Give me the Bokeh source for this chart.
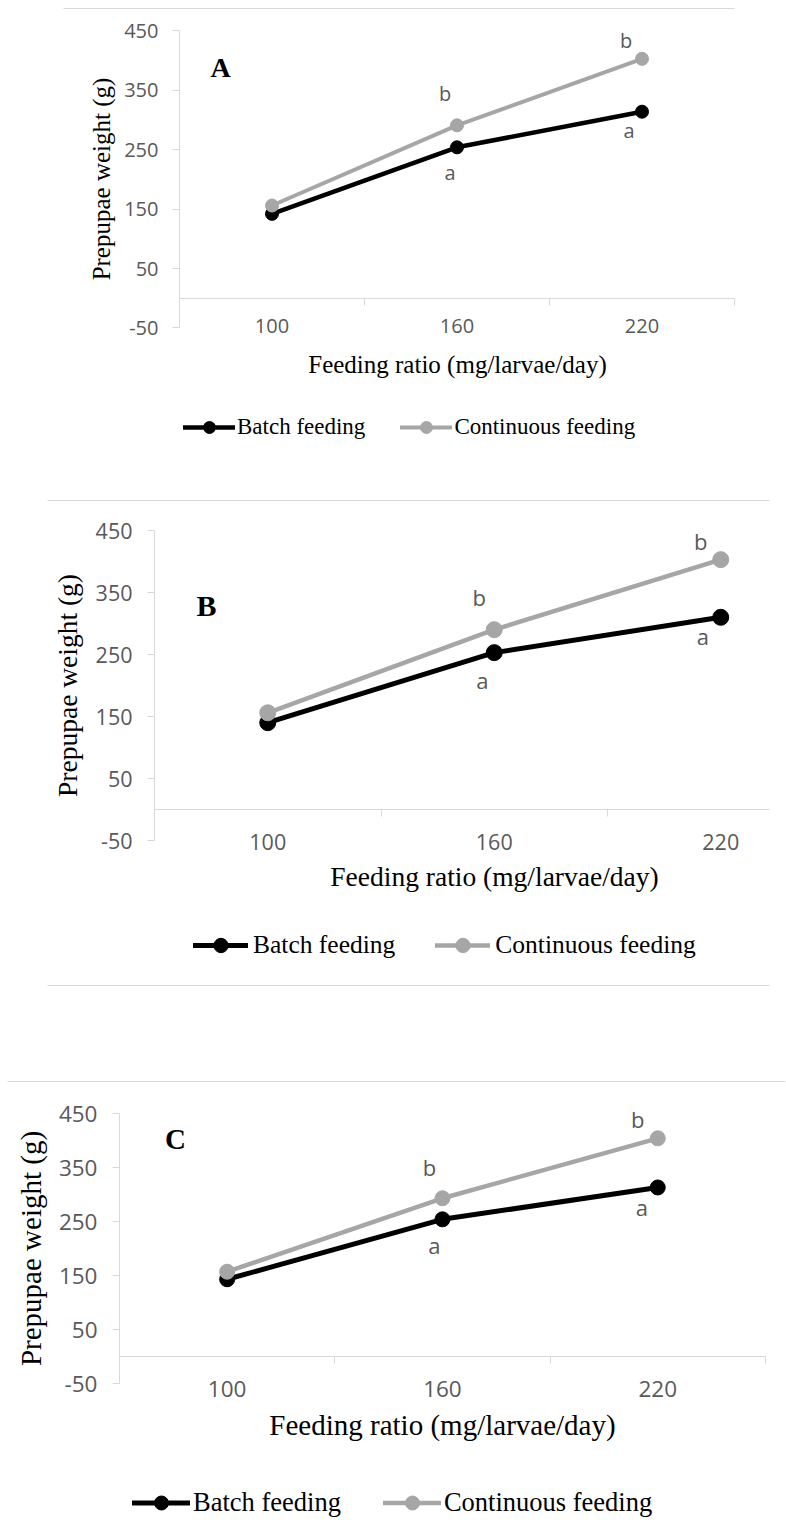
from bokeh.plotting import figure
from bokeh.models import (Range1d, LinearAxis, FixedTicker, Legend, LegendItem,
                          Label, ColumnDataSource)
from bokeh.layouts import column
from bokeh.embed import file_html
from bokeh.resources import INLINE
from bokeh.core.properties import value

# ---------------- data ----------------
categories = ["100", "160", "220"]
cat_pos = [0.5, 1.5, 2.5]
cat_bounds = [0, 1, 2, 3]
y_ticks = [-50, 50, 150, 250, 350, 450]
series_names = ["Batch feeding", "Continuous feeding"]
x_title = "Feeding ratio (mg/larvae/day)"
y_title = "Prepupae weight (g)"

batch_A = [142, 254, 314]
cont_A = [156, 291, 403]
batch_B = [140, 253, 310]
cont_B = [156, 290, 403]
batch_C = [143, 254, 313]
cont_C = [157, 293, 404]

letters_batch = ["", "a", "a"]
letters_cont = ["", "b", "b"]
panel_letters = ["A", "B", "C"]

# ---------------- styles / geometry (page pixels) ----------------
GRID = "#D9D9D9"
GRAY = "#A6A6A6"
TICK_TXT = "#595959"

cfgA = dict(top=0, W=786, H=480, x0=179, cw=185, y0=297.7, ppu=0.594, xend=3.0,
            tick_fs=20, ytick_so=14, title_fs=25, ylab_so=6, xtick_so=-9, xlab_so=15,
            lw_b=4.5, lw_c=4, ms=13, txt_fs=20,
            letter=(220, 67), letter_fs=28,
            leg_x=183, leg_cy=427, gh=30, gw=52, lso=2, lsp=35, leg_fs=23,
            borders=[(63, 734, 8)],
            dx=[-7, -13, -12, -16], dy=[25, 19, -32, -18])
cfgB = dict(top=480, W=786, H=530, x0=154, cw=226.5, y0=809, ppu=0.62, xend=2.715,
            tick_fs=21.5, ytick_so=15, title_fs=27.5, ylab_so=10, xtick_so=-7, xlab_so=8,
            lw_b=5, lw_c=4.5, ms=16, txt_fs=22,
            letter=(206, 605), letter_fs=30,
            leg_x=193, leg_cy=945, gh=36, gw=55, lso=5, lsp=40, leg_fs=25.5,
            borders=[(47, 769, 500), (47, 769, 985)],
            dx=[-12, -18, -15, -20], dy=[27, 19, -33, -19])
cfgC = dict(top=1010, W=786, H=520, x0=119, cw=215.3, y0=1356, ppu=0.54, xend=3.0,
            tick_fs=22.5, ytick_so=15, title_fs=29, ylab_so=9, xtick_so=-3, xlab_so=9,
            lw_b=5, lw_c=4.5, ms=15, txt_fs=22,
            letter=(175, 1138), letter_fs=29,
            leg_x=132, leg_cy=1502, gh=35, gw=58, lso=3, lsp=42, leg_fs=26.5,
            borders=[(7, 785, 1081)],
            dx=[-8, -16, -13, -20], dy=[26, 20, -31, -19])


def make_panel(cfg, batch, cont, letter):
    W, H, top = cfg["W"], cfg["H"], cfg["top"]
    x0, cw, y0, ppu = cfg["x0"], cfg["cw"], cfg["y0"], cfg["ppu"]

    def cx(px):
        return (px - x0) / cw

    def vy(py):
        return (y0 - py) / ppu

    p = figure(width=W, height=H,
               x_range=Range1d(cx(0), cx(W)), y_range=Range1d(vy(top + H), vy(top)),
               x_axis_type=None, y_axis_type=None,
               output_backend="svg", toolbar_location=None,
               min_border_left=0, min_border_right=0,
               min_border_top=0, min_border_bottom=0)
    p.title.visible = False
    p.outline_line_color = None
    p.background_fill_color = "white"
    p.border_fill_color = "white"

    # vertical axis crossing at the first category boundary
    yax = LinearAxis(fixed_location=0, bounds=(y_ticks[0], y_ticks[-1]),
                     ticker=FixedTicker(ticks=y_ticks, minor_ticks=[]),
                     major_label_overrides={t: str(t) for t in y_ticks},
                     axis_label=y_title,
                     axis_label_text_font="Liberation Serif",
                     axis_label_text_font_size=f"{cfg['title_fs']}px",
                     axis_label_text_font_style="normal",
                     axis_label_text_color="black",
                     axis_label_standoff=cfg["ylab_so"],
                     major_label_text_font="Open Sans",
                     major_label_text_font_size=f"{cfg['tick_fs']}px",
                     major_label_text_color=TICK_TXT,
                     major_label_standoff=cfg["ytick_so"],
                     axis_line_color=GRID, major_tick_line_color=GRID,
                     major_tick_out=7, major_tick_in=0,
                     minor_tick_line_color=None)
    p.add_layout(yax, "left")

    # category labels + title at the bottom of the plot area (y = -50)
    xlab = LinearAxis(fixed_location=y_ticks[0], bounds=(0.3, 2.7),
                      ticker=FixedTicker(ticks=cat_pos, minor_ticks=[]),
                      major_label_overrides={cp: c for cp, c in zip(cat_pos, categories)},
                      axis_label=x_title,
                      axis_label_text_font="Liberation Serif",
                      axis_label_text_font_size=f"{cfg['title_fs']}px",
                      axis_label_text_font_style="normal",
                      axis_label_text_color="black",
                      axis_label_standoff=cfg["xlab_so"],
                      major_label_text_font="Open Sans",
                      major_label_text_font_size=f"{cfg['tick_fs']}px",
                      major_label_text_color=TICK_TXT,
                      major_label_standoff=cfg["xtick_so"],
                      axis_line_color=None,
                      major_tick_line_color=None, major_tick_out=0, major_tick_in=0,
                      minor_tick_line_color=None)
    p.add_layout(xlab, "below")

    # horizontal axis line at y = 0 with ticks between categories
    x0ax = LinearAxis(fixed_location=0, bounds=(0, cfg["xend"]),
                      ticker=FixedTicker(ticks=[], minor_ticks=cat_bounds),
                      major_label_text_font_size="0px", major_label_standoff=0,
                      axis_line_color=GRID,
                      major_tick_line_color=None, major_tick_out=0, major_tick_in=0,
                      minor_tick_line_color=GRID, minor_tick_out=7, minor_tick_in=0)
    p.add_layout(x0ax, "below")

    # thin chart-area border lines
    for (xl, xr, py) in cfg["borders"]:
        bax = LinearAxis(fixed_location=vy(py), bounds=(cx(xl), cx(xr)),
                         ticker=FixedTicker(ticks=[], minor_ticks=[]),
                         major_label_text_font_size="0px", major_label_standoff=0,
                         axis_line_color=GRID, axis_line_width=1.2,
                         major_tick_line_color=None, minor_tick_line_color=None,
                         major_tick_out=0, major_tick_in=0)
        p.add_layout(bax, "above")

    src_b = ColumnDataSource(dict(x=cat_pos, y=batch))
    src_c = ColumnDataSource(dict(x=cat_pos, y=cont))
    lb = p.line("x", "y", source=src_b, line_color="black", line_width=cfg["lw_b"],
                line_join="round", line_cap="round")
    sb = p.scatter("x", "y", source=src_b, size=cfg["ms"], fill_color="black",
                   line_color="black")
    lc = p.line("x", "y", source=src_c, line_color=GRAY, line_width=cfg["lw_c"],
                line_join="round", line_cap="round")
    sc = p.scatter("x", "y", source=src_c, size=cfg["ms"], fill_color=GRAY,
                   line_color=GRAY)

    lab_src = ColumnDataSource(dict(
        x=cat_pos[1:] + cat_pos[1:],
        y=batch[1:] + cont[1:],
        text=letters_batch[1:] + letters_cont[1:],
        dx=cfg["dx"], dy=cfg["dy"]))
    p.text("x", "y", text="text", x_offset="dx", y_offset="dy", source=lab_src,
           text_font=value("Open Sans"), text_font_size=f"{cfg['txt_fs']}px",
           text_color=TICK_TXT, text_align="center", text_baseline="middle")

    p.add_layout(Label(x=cfg["letter"][0], y=cfg["letter"][1] - top, x_units="canvas",
                       y_units="canvas", text=letter, text_font="Liberation Serif",
                       text_font_style="bold", text_font_size=f"{cfg['letter_fs']}px",
                       text_color="black", text_align="center", text_baseline="middle"))

    leg_bottom = cfg["leg_cy"] - top + cfg["gh"] / 2
    leg = Legend(items=[LegendItem(label=series_names[0], renderers=[lb, sb]),
                        LegendItem(label=series_names[1], renderers=[lc, sc])],
                 location=(cfg["leg_x"], H - leg_bottom), orientation="horizontal",
                 glyph_width=cfg["gw"], glyph_height=cfg["gh"], label_height=cfg["gh"],
                 label_standoff=cfg["lso"], spacing=cfg["lsp"],
                 label_text_font="Liberation Serif",
                 label_text_font_size=f"{cfg['leg_fs']}px",
                 label_text_color="black", label_text_baseline="middle",
                 padding=0, margin=0, border_line_color=None,
                 background_fill_alpha=0)
    p.add_layout(leg, "center")
    return p


pA = make_panel(cfgA, batch_A, cont_A, panel_letters[0])
pB = make_panel(cfgB, batch_B, cont_B, panel_letters[1])
pC = make_panel(cfgC, batch_C, cont_C, panel_letters[2])

layout = column(pA, pB, pC, spacing=0)
open("out.html", "w").write(file_html(layout, INLINE))
